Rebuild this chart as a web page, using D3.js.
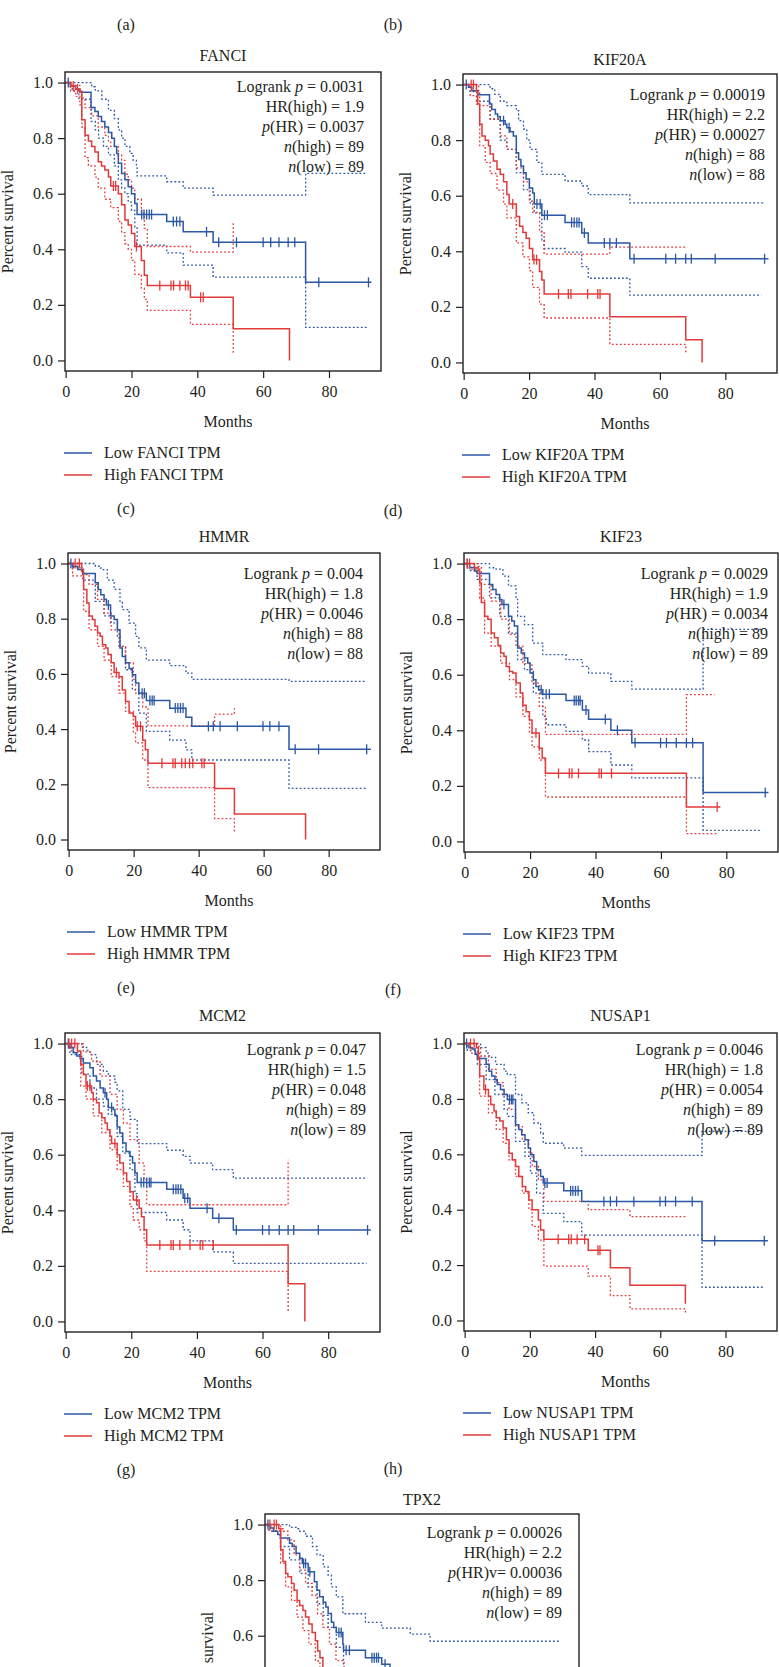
<!DOCTYPE html>
<html>
<head>
<meta charset="utf-8">
<script src="https://cdn.jsdelivr.net/npm/d3@7/dist/d3.min.js"></script>
<style>
  body { margin: 0; background: #fff; }
  svg { display: block; }
  text { font-family: "Liberation Serif", "Times New Roman", serif; fill: #231f20; }
</style>
</head>
<body>
<svg id="fig" width="779" height="1667"></svg>
<script>
// gene names and test results
var genes = ["FANCI", "KIF20A", "HMMR", "KIF23", "MCM2", "NUSAP1", "TPX2"];
var letters = ["(c)", "(d)", "(e)", "(f)", "(g)", "(h)", "(i)"];
var logrankP = ["0.0031", "0.00019", "0.004", "0.0029", "0.047", "0.0046", "0.00026"];
var hrHigh = ["1.9", "2.2", "1.8", "1.9", "1.5", "1.8", "2.2"];
var pHR = ["0.0037", "0.00027", "0.0046", "0.0034", "0.048", "0.0054", "0.00036"];
var pHRJoin = [" = ", " = ", " = ", " = ", " = ", " = ", "v= "];
var nHigh = [89, 88, 88, 89, 89, 89, 89];
var nLow = [89, 88, 88, 89, 89, 89, 89];
var xTicks = [0, 20, 40, 60, 80];
var yTicks = [0, 0.2, 0.4, 0.6, 0.8, 1.0];

// curves: [month, survival from that month on]
// FANCI
var fanciLow = [[0,1],[1.5,0.988],[3,0.976],[4.3,0.965],[7.7,0.91],[8.9,0.896],[9.9,0.878],[10.9,0.86],[11.9,0.84],[13,0.82],[14,0.8],[14.8,0.77],[15.5,0.745],[16,0.71],[17,0.673],[18,0.65],[19,0.625],[20,0.6],[21,0.565],[21.7,0.525],[30.7,0.5],[35.7,0.463],[44.8,0.425],[72.9,0.281],[92.9,0.281]];
var fanciLowCensor = [0.8, 23.1, 23.8, 24.6, 25.4, 26.1, 32.7, 33.7, 34.7, 42.8, 46.5, 51.9, 60, 62.3, 64.8, 67.6, 69.6, 76.9, 92];
var fanciHigh = [[0,1],[1.5,0.988],[3,0.977],[4.3,0.965],[4.9,0.866],[5.9,0.81],[6.9,0.79],[7.9,0.77],[8.9,0.75],[9.9,0.715],[10.9,0.7],[11.9,0.685],[13,0.66],[13.7,0.628],[16,0.6],[17,0.56],[18,0.505],[19,0.487],[20,0.457],[21,0.41],[23,0.36],[23.9,0.307],[24.8,0.27],[37.9,0.227],[50.9,0.114],[68,0]];
var fanciHighCensor = [2.3, 3.6, 14.5, 15.2, 21.5, 28.6, 32, 32.8, 34.7, 36.4, 37.2, 41, 41.8];
var fanciLowUpper = [[0,1],[7.9,0.985],[9,0.97],[11,0.94],[13,0.9],[14.8,0.87],[16,0.83],[17,0.8],[18,0.77],[19.5,0.745],[20.5,0.72],[21.5,0.7],[21.7,0.664],[30.7,0.643],[35.7,0.62],[44.8,0.595],[72.9,0.673],[91.4,0.673]];
var fanciLowLower = [[0,1],[1,0.985],[2,0.97],[4,0.94],[7.7,0.86],[9,0.83],[10,0.8],[11.5,0.77],[13,0.74],[14.8,0.7],[16,0.65],[17,0.62],[18,0.6],[19,0.57],[20,0.54],[21,0.48],[21.7,0.415],[30.7,0.387],[35.7,0.343],[44.8,0.3],[72.9,0.119],[92,0.119]];
var fanciHighUpper = [[0,1],[1.5,0.99],[4.3,0.97],[4.9,0.944],[5.9,0.91],[7.9,0.88],[9.9,0.84],[11.9,0.81],[13,0.79],[13.7,0.77],[16,0.74],[17,0.72],[18,0.67],[19,0.65],[20,0.62],[21,0.58],[23,0.53],[23.9,0.475],[24.8,0.41],[37.9,0.39],[50.9,0.494]];
var fanciHighLower = [[0,1],[1.5,0.97],[3,0.95],[4.3,0.92],[4.9,0.84],[5.9,0.73],[6.9,0.7],[8.9,0.66],[9.9,0.62],[11.9,0.58],[13.7,0.55],[16,0.5],[17,0.46],[18,0.42],[19,0.4],[20,0.36],[21,0.31],[23,0.26],[23.9,0.22],[24.8,0.18],[37.9,0.13],[50.9,0.02]];

// KIF20A
var kif20aLow = [[0,1],[1.5,0.99],[2.5,0.978],[4.3,0.963],[7.9,0.93],[8.6,0.91],[9.7,0.894],[10.4,0.884],[11.2,0.87],[12.7,0.857],[13.2,0.845],[14.2,0.83],[15.2,0.815],[16.1,0.755],[16.8,0.73],[17.5,0.707],[18.3,0.683],[19.1,0.66],[20.1,0.628],[21.1,0.61],[21.6,0.57],[23.9,0.53],[31,0.504],[36.1,0.466],[38.1,0.43],[50.8,0.373],[93.2,0.373]];
var kif20aLowCensor = [0.8, 12.2, 13.9, 22.4, 23.4, 24.7, 25.6, 33, 33.8, 34.6, 35.3, 36.9, 43, 44.7, 46.7, 52.1, 61.8, 64.8, 67.9, 69.6, 76.9, 92];
var kif20aHigh = [[0,1],[3.9,0.975],[4.3,0.93],[4.9,0.857],[5.6,0.815],[6.6,0.8],[7.6,0.78],[8.1,0.75],[9.1,0.725],[10.2,0.695],[11.2,0.677],[12.2,0.65],[13.2,0.604],[13.9,0.57],[16.1,0.525],[17.1,0.49],[18.1,0.468],[19.1,0.447],[20.1,0.41],[21.1,0.37],[23.2,0.327],[23.9,0.297],[24.6,0.246],[44.7,0.164],[67.9,0.082],[72.9,0]];
var kif20aHighCensor = [2.3, 3, 15, 21.5, 22.3, 29, 32, 32.8, 37.9, 41, 41.7];
var kif20aLowUpper = [[0,1],[8.1,0.985],[9.5,0.965],[11.2,0.94],[13.2,0.924],[16.1,0.906],[16.8,0.87],[18.3,0.84],[19.3,0.8],[20.3,0.767],[22.4,0.72],[23.9,0.677],[31,0.653],[36.1,0.635],[38.1,0.604],[50.8,0.574],[92,0.574]];
var kif20aLowLower = [[0,1],[2,0.975],[4,0.94],[8.1,0.876],[11.2,0.8],[13.2,0.767],[16.1,0.683],[18.3,0.622],[20.3,0.574],[21.6,0.538],[23.9,0.44],[24.6,0.41],[31,0.397],[36.1,0.345],[38.1,0.303],[50.8,0.242],[91,0.242]];
var kif20aHighUpper = [[0,1],[4.6,0.97],[4.9,0.924],[8.1,0.876],[11.2,0.815],[13.2,0.767],[16.1,0.7],[18.3,0.65],[20.1,0.58],[21.1,0.54],[23.2,0.47],[24.6,0.39],[44.7,0.415],[67.9,0.415]];
var kif20aHighLower = [[0,1],[2,0.96],[3.9,0.93],[4.9,0.78],[6.6,0.72],[8.1,0.68],[10.2,0.62],[12.2,0.57],[13.2,0.52],[16.1,0.43],[18.1,0.38],[20.1,0.33],[21.1,0.27],[23.2,0.21],[24.6,0.16],[44.7,0.065],[67.9,0.03]];

// HMMR
var hmmrLow = [[0,1],[1.2,0.99],[2.8,0.978],[4.3,0.964],[8.2,0.93],[9.1,0.906],[9.9,0.887],[10.9,0.87],[11.6,0.85],[12.9,0.81],[14,0.797],[15,0.76],[15.8,0.694],[16.5,0.663],[17.5,0.64],[18.6,0.62],[19.6,0.597],[20.6,0.567],[21.6,0.53],[23.9,0.504],[31.1,0.476],[36.1,0.443],[37.9,0.41],[67.8,0.327],[93,0.327]];
var hmmrLowCensor = [0.7, 12.2, 22.6, 23.3, 25, 25.7, 26.3, 32.8, 33.6, 34.4, 35.2, 43, 44.5, 46.6, 51.9, 59.8, 61.9, 64.7, 69.7, 76.9, 91.7];
var hmmrHigh = [[0,1],[4,0.972],[4.6,0.906],[5.6,0.857],[6.3,0.81],[7.3,0.797],[8.1,0.773],[8.9,0.748],[9.7,0.736],[10.4,0.706],[11.4,0.694],[12.1,0.67],[13.1,0.64],[14,0.605],[15.5,0.59],[16.5,0.542],[17.5,0.5],[18.6,0.458],[19.9,0.446],[20.6,0.41],[22.8,0.36],[23.6,0.325],[24.4,0.276],[44.9,0.185],[51,0.092],[72.9,0]];
var hmmrHighCensor = [2, 3.3, 14.7, 21.1, 22.1, 28.7, 32.1, 32.8, 34.8, 35.9, 37.2, 38.2, 41, 41.7];
var hmmrLowUpper = [[0,1],[8.2,0.99],[9.9,0.978],[11.9,0.94],[14,0.906],[15.8,0.863],[16.5,0.833],[18.6,0.784],[20.6,0.736],[21.6,0.694],[23.9,0.65],[31.1,0.63],[36.1,0.603],[37.9,0.58],[67.8,0.573],[91.7,0.573]];
var hmmrLowLower = [[0,1],[1.2,0.985],[4.3,0.94],[8.2,0.863],[10.9,0.81],[12.9,0.785],[15,0.736],[15.8,0.7],[17.5,0.615],[19.6,0.542],[21.6,0.458],[23.9,0.392],[31.1,0.36],[36.1,0.325],[37.9,0.288],[67.8,0.185],[91.7,0.185]];
var hmmrHighUpper = [[0,1],[4,0.985],[4.6,0.96],[6.3,0.924],[8.9,0.87],[10.9,0.82],[13.1,0.76],[15.5,0.7],[17.5,0.64],[19.9,0.58],[20.6,0.53],[22.8,0.48],[24.4,0.412],[44.9,0.454],[51,0.476]];
var hmmrHighLower = [[0,1],[1.2,0.955],[4.6,0.827],[6.3,0.76],[8.9,0.7],[10.9,0.65],[13.1,0.59],[15.5,0.53],[17.5,0.464],[19.9,0.385],[20.6,0.35],[22.8,0.288],[24.4,0.188],[44.9,0.076],[51,0.028]];

// KIF23
var kif23Low = [[0,1],[1.5,0.986],[3,0.973],[3.8,0.964],[7.6,0.925],[8.6,0.907],[9.6,0.889],[10.7,0.871],[11.4,0.853],[13.4,0.81],[14.4,0.793],[15.2,0.775],[16.2,0.696],[17.3,0.678],[18.3,0.66],[19.3,0.642],[20,0.606],[21,0.582],[21.8,0.558],[22.6,0.546],[23.9,0.53],[31,0.507],[36,0.473],[37.9,0.44],[44.7,0.4],[51.1,0.355],[72.9,0.176],[92.9,0.176]];
var kif23LowCensor = [0.8, 12, 23.4, 24.9, 25.9, 33.5, 34.1, 34.8, 35.3, 37.1, 43, 46.7, 52.1, 59.9, 61.7, 64.7, 67.8, 69.7, 91.9];
var kif23High = [[0,1],[3,0.985],[4.1,0.973],[4.6,0.93],[5.1,0.86],[6.1,0.81],[7.1,0.8],[8.1,0.75],[9.1,0.733],[10.2,0.705],[11,0.678],[12,0.666],[12.7,0.63],[13.7,0.612],[14.7,0.606],[15.7,0.57],[17,0.534],[17.8,0.49],[18.8,0.467],[19.8,0.437],[20.6,0.39],[22.8,0.335],[23.7,0.3],[24.7,0.245],[67.8,0.124],[78.2,0.124]];
var kif23HighCensor = [0.8, 1.5, 21.8, 28.7, 32, 32.8, 34.8, 41.1, 41.8, 44.9, 77.2];
var kif23LowUpper = [[0,1],[7.6,0.985],[9.6,0.98],[11.7,0.955],[13.4,0.92],[15.7,0.871],[16.2,0.81],[18.3,0.78],[20.8,0.714],[23.9,0.672],[31,0.654],[36,0.63],[37.9,0.606],[44.7,0.576],[51.1,0.548],[72.9,0.763],[90.9,0.763]];
var kif23LowLower = [[0,1],[1.5,0.975],[3.8,0.943],[7.6,0.877],[10.7,0.81],[13.4,0.75],[16.2,0.654],[18.3,0.618],[21,0.534],[23.9,0.45],[24.9,0.42],[31,0.396],[36,0.365],[37.9,0.323],[44.7,0.275],[51.1,0.229],[72.9,0.04],[90.9,0.04]];
var kif23HighUpper = [[0,1],[4.1,0.99],[5.1,0.925],[8.1,0.865],[11,0.8],[13.7,0.745],[15.7,0.703],[17.8,0.64],[20.6,0.57],[22.8,0.486],[24.7,0.385],[67.8,0.528],[76.4,0.528]];
var kif23HighLower = [[0,1],[1.5,0.98],[4.6,0.876],[6.1,0.75],[8.1,0.703],[11,0.642],[13.7,0.582],[15.7,0.52],[17.8,0.45],[19.8,0.39],[20.6,0.34],[22.8,0.293],[24.7,0.16],[67.8,0.028],[77.2,0.028]];

// MCM2
var mcm2Low = [[0,1],[1.3,0.986],[2.3,0.967],[3.4,0.955],[4.4,0.946],[5.4,0.93],[7.4,0.913],[8.4,0.883],[9.4,0.865],[10.5,0.84],[11.5,0.823],[12.5,0.8],[13,0.77],[14.5,0.763],[15,0.74],[15.7,0.7],[16.5,0.678],[17.4,0.642],[18.4,0.612],[19.6,0.594],[20.4,0.57],[21.1,0.534],[21.8,0.5],[30.8,0.476],[35.8,0.443],[37.9,0.407],[44.8,0.371],[51.1,0.329],[93,0.329]];
var mcm2LowCensor = [0.8, 12, 14, 23, 23.8, 24.7, 25.5, 26, 32.8, 33.6, 34.3, 35.1, 36.3, 37.2, 43.1, 46.7, 52, 60, 62, 65.1, 67.8, 69.5, 77, 92];
var mcm2High = [[0,1],[3.6,0.973],[4.6,0.925],[5.4,0.889],[6.2,0.847],[7.9,0.823],[8.4,0.8],[9.4,0.787],[10.2,0.75],[11,0.733],[12,0.714],[12.7,0.69],[13.5,0.666],[14,0.64],[15.7,0.6],[16.5,0.57],[17.6,0.534],[18.6,0.504],[19.6,0.467],[20.6,0.437],[22.4,0.407],[23.1,0.377],[23.9,0.33],[24.7,0.275],[67.8,0.136],[72.9,0]];
var mcm2HighCensor = [1, 1.8, 2.8, 6.6, 7.4, 15, 21.6, 28.7, 32.1, 32.8, 34.8, 37.9, 41, 41.8, 45];
var mcm2LowUpper = [[0,1],[4.9,0.986],[6.4,0.975],[7.4,0.96],[9.4,0.925],[11.5,0.9],[13,0.883],[15,0.86],[15.7,0.83],[17.4,0.763],[19.6,0.727],[21.8,0.64],[30.8,0.616],[35.8,0.594],[37.9,0.57],[44.8,0.546],[51.1,0.516],[91.7,0.516]];
var mcm2LowLower = [[0,1],[1.3,0.96],[4.9,0.89],[7.4,0.84],[9.4,0.8],[11.5,0.775],[13,0.745],[15.7,0.666],[17.4,0.606],[19.6,0.546],[21.1,0.46],[21.8,0.392],[30.8,0.365],[35.8,0.33],[37.9,0.29],[44.8,0.25],[51.1,0.209],[91.7,0.209]];
var mcm2HighUpper = [[0,1],[5.4,0.97],[7.9,0.937],[10.5,0.883],[13.5,0.817],[15.7,0.763],[17.6,0.714],[19.6,0.654],[22.4,0.57],[23.9,0.51],[24.7,0.42],[67.8,0.582]];
var mcm2HighLower = [[0,1],[1.8,0.97],[4.6,0.847],[6.2,0.8],[8.4,0.74],[11,0.68],[13.5,0.618],[15.7,0.546],[17.6,0.486],[19.6,0.413],[20.6,0.365],[22.4,0.33],[23.9,0.29],[24.7,0.18],[67.8,0.03]];

// NUSAP1
var nusap1Low = [[0,1],[1.3,0.985],[2.3,0.98],[3.2,0.961],[3.9,0.946],[6.6,0.925],[7.5,0.9],[8.3,0.883],[9.3,0.87],[10,0.852],[11,0.834],[12.1,0.816],[13.1,0.798],[15.6,0.707],[16.6,0.69],[17.5,0.671],[18.5,0.653],[19.5,0.623],[20.2,0.598],[21.2,0.574],[22.1,0.544],[23.3,0.52],[24.1,0.496],[30.4,0.468],[35.9,0.43],[72.8,0.288],[93,0.288]];
var nusap1LowCensor = [0.6, 13.8, 14.4, 14.8, 24.6, 25.3, 32.5, 33.2, 34, 34.8, 42.7, 44.7, 46.6, 51.9, 59.9, 61.6, 64.7, 69.8, 76.7, 91.9];
var nusap1High = [[0,1],[3.6,0.985],[4.2,0.943],[4.6,0.883],[5.9,0.834],[7.3,0.81],[8,0.78],[9,0.756],[9.7,0.732],[10.8,0.72],[11.8,0.695],[12.8,0.653],[13.6,0.604],[14.6,0.58],[15.6,0.556],[16.6,0.52],[17.7,0.484],[18.7,0.466],[19.7,0.435],[20.7,0.4],[22.6,0.363],[23.3,0.327],[24.3,0.293],[37.9,0.254],[44.7,0.19],[50.7,0.127],[67.7,0.06]];
var nusap1HighCensor = [1.8, 2.9, 6.4, 28.7, 31.9, 32.7, 34.5, 36.8, 40.9, 41.5];
var nusap1LowUpper = [[0,1],[4.9,0.985],[6.6,0.965],[7.5,0.95],[9.5,0.925],[12.1,0.9],[13.1,0.888],[15.6,0.816],[17.5,0.786],[19.5,0.75],[21.2,0.713],[23.3,0.677],[24.1,0.64],[30.4,0.622],[35.9,0.596],[72.8,0.683],[91.7,0.683]];
var nusap1LowLower = [[0,1],[0.8,0.975],[3.9,0.925],[6.6,0.87],[9.3,0.816],[12.1,0.762],[13.1,0.737],[15.6,0.647],[18.5,0.593],[20.2,0.532],[22.1,0.46],[24.1,0.387],[30.4,0.357],[35.9,0.308],[72.8,0.12],[91.7,0.12]];
var nusap1HighUpper = [[0,1],[3.9,0.99],[4.9,0.955],[7.3,0.907],[9.7,0.859],[11.8,0.816],[13.6,0.762],[15.6,0.7],[17.7,0.653],[19.7,0.604],[20.7,0.556],[22.6,0.508],[24.3,0.43],[37.9,0.4],[50.7,0.375],[67.7,0.375]];
var nusap1HighLower = [[0,1],[1.8,0.965],[4.6,0.81],[7.3,0.75],[9.7,0.69],[11.8,0.64],[13.6,0.58],[15.6,0.52],[17.7,0.46],[19.7,0.4],[20.7,0.34],[22.6,0.29],[24.3,0.196],[37.9,0.16],[44.7,0.09],[50.7,0.042],[67.7,0.024]];

// TPX2 (lower half of this panel falls below the page)
var tpx2Low = [[0,1],[1.5,0.988],[2.4,0.976],[3.7,0.964],[4.5,0.952],[7.3,0.933],[8.1,0.921],[9.3,0.897],[10.4,0.879],[11.2,0.86],[13,0.83],[14.9,0.794],[15.7,0.764],[16.5,0.74],[17.6,0.72],[18.4,0.703],[19.1,0.68],[20.1,0.648],[20.8,0.63],[21.6,0.612],[23.6,0.57],[23.8,0.548],[30.5,0.521],[35.5,0.497],[38,0.46],[44,0.42],[51,0.37],[93,0.37]];
var tpx2LowCensor = [0.7, 11.6, 12.2, 13.5, 22.4, 23.1, 24.6, 25.6, 32.5, 33.2, 33.9, 34.5, 36.5, 42, 47, 52, 60, 65, 70, 77, 92];
var tpx2High = [[0,1],[4,0.985],[4.6,0.909],[5.3,0.867],[6.1,0.824],[6.8,0.812],[7.9,0.788],[8.7,0.764],[9.6,0.727],[10.4,0.709],[11.4,0.691],[12.2,0.667],[13.2,0.642],[14.2,0.612],[15.2,0.582],[15.9,0.545],[16.6,0.521],[17.5,0.485],[18.5,0.45],[20,0.41],[22,0.36],[24,0.3],[25,0.25],[45,0.17],[68,0.08],[73,0]];
var tpx2HighCensor = [1.3, 2.6, 3.3, 29, 32, 33, 38, 41];
var tpx2LowUpper = [[0,1],[7.3,0.99],[9.3,0.985],[10.4,0.976],[12.2,0.958],[14.3,0.921],[15.7,0.891],[17.6,0.848],[19.1,0.818],[20.1,0.776],[21.6,0.74],[23.6,0.679],[30.5,0.648],[35.5,0.627],[44.2,0.606],[50.3,0.58],[90.2,0.58]];
var tpx2LowLower = [[0,1],[1,0.976],[4.5,0.921],[7.3,0.873],[10.4,0.824],[13,0.776],[15.7,0.715],[17.6,0.673],[19.1,0.63],[21.6,0.558],[23.8,0.485],[30.5,0.45],[35.5,0.42],[44,0.37],[51,0.3],[90.2,0.3]];
var tpx2HighUpper = [[0,1],[4.6,0.985],[5.3,0.976],[6.8,0.945],[8.7,0.891],[10.4,0.836],[12.2,0.788],[14.2,0.745],[15.9,0.679],[17.5,0.63],[19.5,0.57],[21.5,0.51],[24,0.44],[25,0.38],[45,0.3],[68,0.35]];
var tpx2HighLower = [[0,1],[1.3,0.976],[4.6,0.861],[6.1,0.776],[7.9,0.727],[9.6,0.667],[11.4,0.618],[13.2,0.57],[15.2,0.509],[16.6,0.46],[19,0.38],[22,0.28],[25,0.16],[45,0.07],[68,0.02]];

var blue = "#2b57a4", red = "#e23a3a";

// frame boxes of the seven panels
var panels = [
  {left: 65,  top: 72,   w: 316, h: 299, statR: 364, statY: 20, titleY: -11, col: 0, data: [fanciLow, fanciHigh, fanciLowCensor, fanciHighCensor, fanciLowUpper, fanciLowLower, fanciHighUpper, fanciHighLower]},
  {left: 463, top: 74,   w: 314, h: 299, statR: 765, statY: 26, titleY: -9,  col: 1, data: [kif20aLow, kif20aHigh, kif20aLowCensor, kif20aHighCensor, kif20aLowUpper, kif20aLowLower, kif20aHighUpper, kif20aHighLower]},
  {left: 68,  top: 553,  w: 312, h: 297, statR: 363, statY: 26, titleY: -11, col: 0, data: [hmmrLow, hmmrHigh, hmmrLowCensor, hmmrHighCensor, hmmrLowUpper, hmmrLowLower, hmmrHighUpper, hmmrHighLower]},
  {left: 464, top: 553,  w: 314, h: 299, statR: 768, statY: 26, titleY: -11, col: 1, data: [kif23Low, kif23High, kif23LowCensor, kif23HighCensor, kif23LowUpper, kif23LowLower, kif23HighUpper, kif23HighLower]},
  {left: 65,  top: 1033, w: 315, h: 299, statR: 366, statY: 22, titleY: -12, col: 0, data: [mcm2Low, mcm2High, mcm2LowCensor, mcm2HighCensor, mcm2LowUpper, mcm2LowLower, mcm2HighUpper, mcm2HighLower]},
  {left: 464, top: 1033, w: 313, h: 298, statR: 763, statY: 22, titleY: -12, col: 1, data: [nusap1Low, nusap1High, nusap1LowCensor, nusap1HighCensor, nusap1LowUpper, nusap1LowLower, nusap1HighUpper, nusap1HighLower]},
  {left: 265, top: 1514, w: 314, h: 299, statR: 562, statY: 24, titleY: -9,  col: 2, data: [tpx2Low, tpx2High, tpx2LowCensor, tpx2HighCensor, tpx2LowUpper, tpx2LowLower, tpx2HighUpper, tpx2HighLower]}
];

var svg = d3.select("#fig");

// top labels of panels (a) and (b)
svg.append("text").attr("x", 126).attr("y", 30).attr("text-anchor", "middle").style("font-size", "16px").text("(a)");
svg.append("text").attr("x", 393).attr("y", 30).attr("text-anchor", "middle").style("font-size", "16px").text("(b)");

function survAt(curve, t) {
  var s = 1;
  curve.forEach(function(d) { if (d[0] <= t) s = d[1]; });
  return s;
}

panels.forEach(function(p, i) {
  var g = svg.append("g");
  var x = d3.scaleLinear().domain([-0.2, 95.8]).range([p.left, p.left + p.w]);
  var y = d3.scaleLinear().domain([-0.038, 1.038]).range([p.top + p.h, p.top]);
  var cx = p.left + p.w / 2;
  var bottom = p.top + p.h;

  g.append("text").attr("x", cx).attr("y", p.top + p.titleY)
    .attr("text-anchor", "middle").style("font-size", "16px").text(genes[i]);

  var line = d3.line().x(function(d) { return x(d[0]); }).y(function(d) { return y(d[1]); })
    .curve(d3.curveStepAfter);

  var low = p.data[0], high = p.data[1];
  var ci = [[p.data[4], blue], [p.data[5], blue], [p.data[6], red], [p.data[7], red]];
  ci.forEach(function(c) {
    g.append("path").attr("d", line(c[0])).attr("fill", "none")
      .attr("stroke", c[1]).attr("stroke-width", 1.3).attr("stroke-dasharray", "1.8,2.2");
  });

  g.append("path").attr("d", line(low)).attr("fill", "none").attr("stroke", blue).attr("stroke-width", 1.5);
  g.append("path").attr("d", line(high)).attr("fill", "none").attr("stroke", red).attr("stroke-width", 1.5);

  [[low, p.data[2], blue], [high, p.data[3], red]].forEach(function(c) {
    g.selectAll(null).data(c[1]).enter().append("line")
      .attr("x1", function(t) { return x(t); }).attr("x2", function(t) { return x(t); })
      .attr("y1", function(t) { return y(survAt(c[0], t)) - 5; })
      .attr("y2", function(t) { return y(survAt(c[0], t)) + 5; })
      .attr("stroke", c[2]).attr("stroke-width", 1.3);
  });

  // frame and axes
  g.append("rect").attr("x", p.left).attr("y", p.top).attr("width", p.w).attr("height", p.h)
    .attr("fill", "none").attr("stroke", "#231f20").attr("stroke-width", 1.4);

  var ay = g.append("g").attr("transform", "translate(" + p.left + ",0)")
    .call(d3.axisLeft(y).tickValues(yTicks).tickFormat(d3.format(".1f")).tickSize(7).tickPadding(5));
  var ax = g.append("g").attr("transform", "translate(0," + bottom + ")")
    .call(d3.axisBottom(x).tickValues(xTicks).tickSize(7).tickPadding(8));
  [ay, ax].forEach(function(a) {
    a.select(".domain").remove();
    a.selectAll(".tick line").attr("stroke", "#231f20").attr("stroke-width", 1.2);
    a.selectAll(".tick text").style("font-family", "'Liberation Serif', serif").style("font-size", "16px").attr("fill", "#231f20");
  });

  g.append("text").attr("x", cx + 5).attr("y", bottom + 56)
    .attr("text-anchor", "middle").style("font-size", "16px").text("Months");
  g.append("text").attr("transform", "translate(" + (p.left - 52) + "," + (p.top + p.h / 2) + ") rotate(-90)")
    .attr("text-anchor", "middle").style("font-size", "16px").text("Percent survival");

  // statistics block
  var st = g.append("g").attr("text-anchor", "end").style("font-size", "16px");
  var rows = [
    [["Logrank ", ""], ["p", "i"], [" = " + logrankP[i], ""]],
    [["HR(high) = " + hrHigh[i], ""]],
    [["p", "i"], ["(HR)" + pHRJoin[i] + pHR[i], ""]],
    [["n", "i"], ["(high) = " + nHigh[i], ""]],
    [["n", "i"], ["(low) = " + nLow[i], ""]]
  ];
  rows.forEach(function(r, k) {
    var t = st.append("text").attr("x", p.statR).attr("y", p.top + p.statY + k * 20);
    r.forEach(function(part) {
      t.append("tspan").style("font-style", part[1] ? "italic" : "normal").text(part[0]);
    });
  });

  // legend
  var lg = [["Low " + genes[i] + " TPM", blue], ["High " + genes[i] + " TPM", red]];
  lg.forEach(function(l, k) {
    var ly = bottom + 82 + k * 22;
    g.append("line").attr("x1", p.left - 1).attr("x2", p.left + 27).attr("y1", ly).attr("y2", ly)
      .attr("stroke", l[1]).attr("stroke-width", 1.5);
    g.append("text").attr("x", p.left + 39).attr("y", ly + 5).style("font-size", "16px").text(l[0]);
  });

  var lx = p.col === 0 ? 126 : (p.col === 1 ? 393 : 260);
  g.append("text").attr("x", lx).attr("y", bottom + 143).attr("text-anchor", "middle")
    .style("font-size", "16px").text(letters[i]);
});
</script>
</body>
</html>
